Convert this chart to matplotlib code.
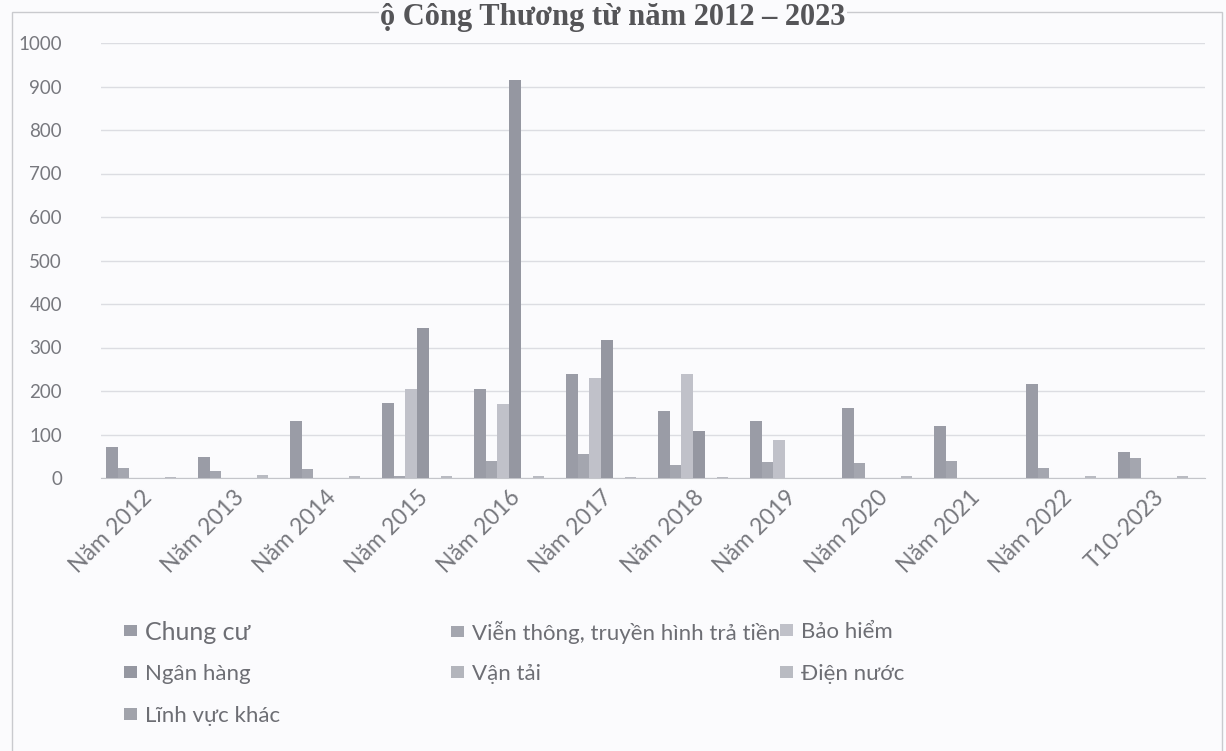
import matplotlib
matplotlib.use("Agg")
import matplotlib.pyplot as plt
from matplotlib.patches import Rectangle, Patch
from matplotlib.transforms import ScaledTranslation
import numpy as np

plt.rcParams['font.family'] = ['Lato', 'DejaVu Sans']

categories = ["Năm 2012", "Năm 2013", "Năm 2014", "Năm 2015", "Năm 2016", "Năm 2017",
              "Năm 2018", "Năm 2019", "Năm 2020", "Năm 2021", "Năm 2022", "T10-2023"]

chung_cu = [71, 48, 131, 172, 204, 240, 154, 131, 160, 120, 216, 59]
vien_thong = [23, 15, 21, 5, 39, 56, 30, 37, 35, 39, 23, 45]
bao_hiem = [0, 0, 0, 205, 170, 229, 239, 87, 0, 0, 0, 0]
ngan_hang = [0, 0, 0, 345, 915, 318, 108, 0, 0, 0, 0, 0]
van_tai = [0, 0, 0, 0, 0, 0, 0, 0, 0, 0, 0, 0]
dien_nuoc = [3, 7, 4, 5, 5, 3, 3, 0, 4, 0, 5, 5]
linh_vuc_khac = [0, 0, 0, 0, 0, 0, 0, 0, 0, 0, 0, 0]

series_names = ["Chung cư", "Viễn thông, truyền hình trả tiền", "Bảo hiểm",
                "Ngân hàng", "Vận tải", "Điện nước", "Lĩnh vực khác"]
series_values = [chung_cu, vien_thong, bao_hiem, ngan_hang, van_tai, dien_nuoc, linh_vuc_khac]
series_colors = ["#9a9ca6", "#a4a6af", "#c0c1c9", "#9597a1", "#b3b5bc", "#b9bbc2", "#a1a3ab"]

title_text = "ộ Công Thương từ năm 2012 – 2023"
yticks = list(range(0, 1001, 100))

W, H = 1226, 751
BG = "#fbfbfd"
fig = plt.figure(figsize=(W / 100, H / 100), dpi=100)
fig.patch.set_facecolor(BG)

# chart frame
fig.patches.append(Rectangle((12 / W, -0.01), (1222 - 12) / W, 1 - 12 / H + 0.01,
                             transform=fig.transFigure, fill=False,
                             edgecolor="#c9cace", lw=1.0, zorder=0))

ax = fig.add_axes([101 / W, 273 / H, (1205 - 101) / W, (708 - 273) / H])
ax.set_facecolor("none")

n = len(series_values)
x = np.arange(len(categories))
bw = 0.128
for i, (vals, col) in enumerate(zip(series_values, series_colors)):
    ax.bar(x + (i - (n - 1) / 2) * bw, vals, width=bw, color=col,
           edgecolor="none", zorder=3)

ax.set_xlim(-0.5, len(categories) - 0.5)
ax.set_ylim(0, 1000)
ax.set_yticks(yticks)
ax.set_yticklabels([str(v) for v in yticks])
ax.yaxis.grid(True, color="#dcdde2", lw=1.0, zorder=0)
ax.set_axisbelow(True)
for s in ["top", "right", "left"]:
    ax.spines[s].set_visible(False)
ax.spines["bottom"].set_color("#c4c5ca")
ax.tick_params(axis="y", length=0, pad=28, labelsize=13.5, labelcolor="#77787e")
ax.tick_params(axis="x", length=0, pad=6)
ax.set_xticks(x)
ax.set_xticklabels(categories, rotation=45, ha="right", va="top",
                   rotation_mode="anchor", fontsize=16.5, color="#77787e")
shift = ScaledTranslation(-6 / 100, 0, fig.dpi_scale_trans)
for lbl in ax.get_xticklabels():
    lbl.set_transform(lbl.get_transform() + shift)

fig.text(0.5, 1 - 25 / H, title_text, ha="center", va="baseline",
         fontsize=22, fontweight="bold", family="Liberation Serif", color="#555558",
         bbox=dict(facecolor=BG, edgecolor="none", pad=1.0), zorder=5)

# legend entries on a 3-column grid
col_x = [124 / W, 451 / W, 780 / W]
row_y = [632, 674, 716]
grid_pos = [(0, 0), (1, 0), (2, 0), (0, 1), (1, 1), (2, 1), (0, 2)]
for i, (c, r) in enumerate(grid_pos):
    fs = 18 if i == 0 else 16
    fig.legend([Patch(facecolor=series_colors[i], edgecolor="none")], [series_names[i]],
               loc="center left", bbox_to_anchor=(col_x[c], 1 - row_y[r] / H),
               frameon=False, fontsize=fs, handlelength=0.58 * 16 / fs,
               handleheight=0.4 * 16 / fs, handletextpad=0.35 * 16 / fs,
               borderaxespad=0, borderpad=0, labelcolor="#6d6e74")

fig.savefig("out.png", dpi=100, facecolor=fig.get_facecolor())
